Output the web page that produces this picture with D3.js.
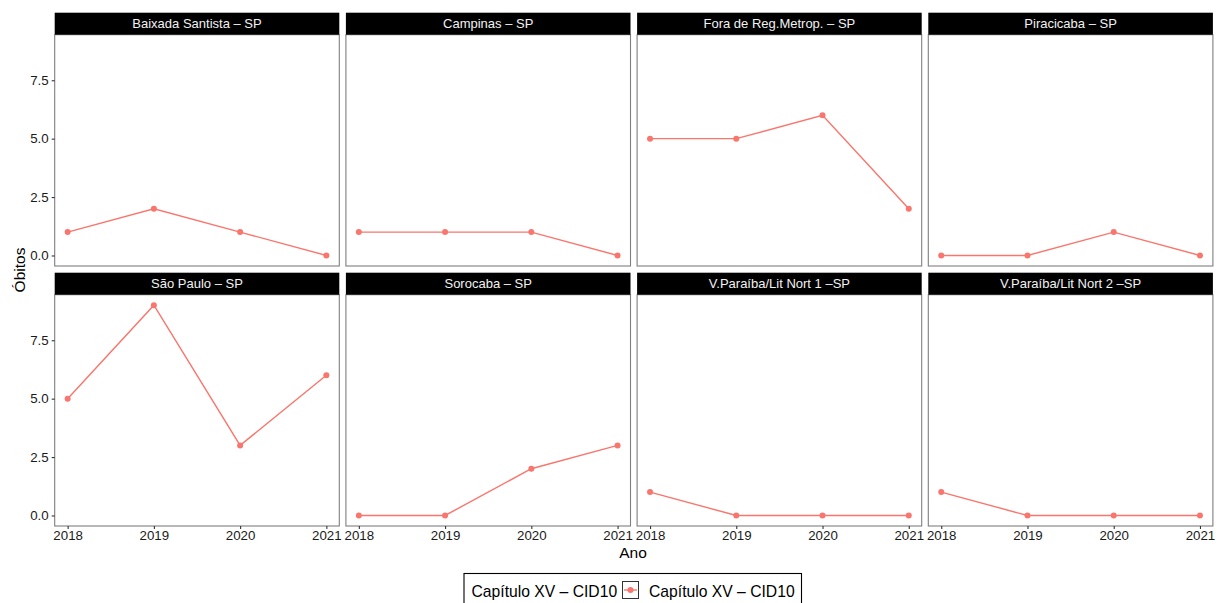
<!DOCTYPE html>
<html>
<head>
<meta charset="utf-8">
<script src="https://cdn.jsdelivr.net/npm/d3@7"></script>
<style>
  body { margin: 0; background: #fff; }
  svg { display: block; font-family: "Liberation Sans", Arial, sans-serif; }
</style>
</head>
<body>
<svg id="chart" width="1224" height="603"></svg>
<script>
// Deaths per year, Chapter XV (ICD-10), by health region
const years = [2018, 2019, 2020, 2021];
const regions = [
  "Baixada Santista – SP", "Campinas – SP", "Fora de Reg.Metrop. – SP", "Piracicaba – SP",
  "São Paulo – SP", "Sorocaba – SP", "V.Paraíba/Lit Nort 1 –SP", "V.Paraíba/Lit Nort 2 –SP"
];
const baixadaSantista = [1, 2, 1, 0];
const campinas = [1, 1, 1, 0];
const foraRegMetrop = [5, 5, 6, 2];
const piracicaba = [0, 0, 1, 0];
const saoPaulo = [5, 9, 3, 6];
const sorocaba = [0, 0, 2, 3];
const vParaiba1 = [1, 0, 0, 0];
const vParaiba2 = [1, 0, 0, 0];
const seriesValues = [baixadaSantista, campinas, foraRegMetrop, piracicaba,
                      saoPaulo, sorocaba, vParaiba1, vParaiba2];
const yTicks = [0, 2.5, 5, 7.5];
const seriesName = "Capítulo XV – CID10";
const xTitle = "Ano";
const yTitle = "Óbitos";

const color = "#F8766D";
const svg = d3.select("#chart");

// Facet grid geometry
const colX0 = 54.7, colW = 284.6, colStep = 291.2;
const rowY0 = 12.7, rowStep = 260, stripH = 22, panelH = 253.3;
const nCols = 4;

const yMax = d3.max(seriesValues.flat());
const yPad = yMax * 0.05;
const xPad = (years[years.length - 1] - years[0]) * 0.05;

regions.forEach((name, i) => {
  const c = i % nCols, r = Math.floor(i / nCols);
  const left = colX0 + c * colStep;
  const top = rowY0 + r * rowStep;
  const bodyTop = top + stripH;
  const bottom = top + panelH;

  const x = d3.scaleLinear()
    .domain([years[0] - xPad, years[years.length - 1] + xPad])
    .range([left, left + colW]);
  const y = d3.scaleLinear()
    .domain([0 - yPad, yMax + yPad])
    .range([bottom, bodyTop]);

  const g = svg.append("g");

  // panel background and border
  g.append("rect")
    .attr("x", left).attr("y", bodyTop)
    .attr("width", colW).attr("height", bottom - bodyTop)
    .attr("fill", "#fff").attr("stroke", "#7f7f7f").attr("stroke-width", 1.1);

  // strip
  g.append("rect")
    .attr("x", left).attr("y", top)
    .attr("width", colW).attr("height", stripH)
    .attr("fill", "#000");
  g.append("text")
    .attr("x", left + colW / 2).attr("y", top + stripH / 2)
    .attr("dy", "0.36em")
    .attr("text-anchor", "middle")
    .attr("fill", "#f2f2f2")
    .attr("font-size", 13)
    .text(name);

  // y axis on first column
  if (c === 0) {
    const ya = g.append("g")
      .attr("transform", `translate(${left},0)`)
      .call(d3.axisLeft(y).tickValues(yTicks).tickFormat(d3.format(".1f")).tickSize(3).tickPadding(3));
    ya.select(".domain").remove();
    ya.selectAll(".tick line").attr("stroke", "#333").attr("stroke-width", 1.1);
    ya.selectAll(".tick text").attr("fill", "#1a1a1a").attr("font-size", 13.3)
      .attr("font-family", "Liberation Sans, Arial, sans-serif");
  }
  // x axis on bottom row
  if (r === 1) {
    const xa = g.append("g")
      .attr("transform", `translate(0,${bottom})`)
      .call(d3.axisBottom(x).tickValues(years).tickFormat(d3.format("d")).tickSize(3).tickPadding(2));
    xa.select(".domain").remove();
    xa.selectAll(".tick line").attr("stroke", "#333").attr("stroke-width", 1.1);
    xa.selectAll(".tick text").attr("fill", "#1a1a1a").attr("font-size", 13.3)
      .attr("font-family", "Liberation Sans, Arial, sans-serif");
  }

  const vals = seriesValues[i];
  const pts = years.map((yr, k) => ({ yr, v: vals[k] }));
  g.append("path")
    .datum(pts)
    .attr("fill", "none")
    .attr("stroke", color)
    .attr("stroke-width", 1.4)
    .attr("d", d3.line().x(d => x(d.yr)).y(d => y(d.v)));
  g.selectAll("circle")
    .data(pts)
    .join("circle")
    .attr("cx", d => x(d.yr)).attr("cy", d => y(d.v))
    .attr("r", 3)
    .attr("fill", color);
});

// axis titles
svg.append("text")
  .attr("x", 633).attr("y", 558)
  .attr("text-anchor", "middle")
  .attr("font-size", 15.5).attr("fill", "#000")
  .text(xTitle);
svg.append("text")
  .attr("transform", "translate(25,270) rotate(-90)")
  .attr("text-anchor", "middle")
  .attr("font-size", 15.5).attr("fill", "#000")
  .text(yTitle);

// legend
const lg = svg.append("g");
lg.append("rect")
  .attr("x", 464).attr("y", 573.5)
  .attr("width", 337.5).attr("height", 40)
  .attr("fill", "#fff").attr("stroke", "#000").attr("stroke-width", 1.1);
lg.append("text")
  .attr("x", 471.5).attr("y", 597)
  .attr("font-size", 15.7).attr("fill", "#000")
  .text(seriesName);
lg.append("rect")
  .attr("x", 622.5).attr("y", 581.5)
  .attr("width", 16).attr("height", 17)
  .attr("fill", "#fff").attr("stroke", "#333").attr("stroke-width", 1);
lg.append("line")
  .attr("x1", 624).attr("x2", 637).attr("y1", 590).attr("y2", 590)
  .attr("stroke", color).attr("stroke-width", 1.4);
lg.append("circle")
  .attr("cx", 630.5).attr("cy", 590).attr("r", 3).attr("fill", color);
lg.append("text")
  .attr("x", 649).attr("y", 597)
  .attr("font-size", 15.7).attr("fill", "#000")
  .text(seriesName);
</script>
</body>
</html>
